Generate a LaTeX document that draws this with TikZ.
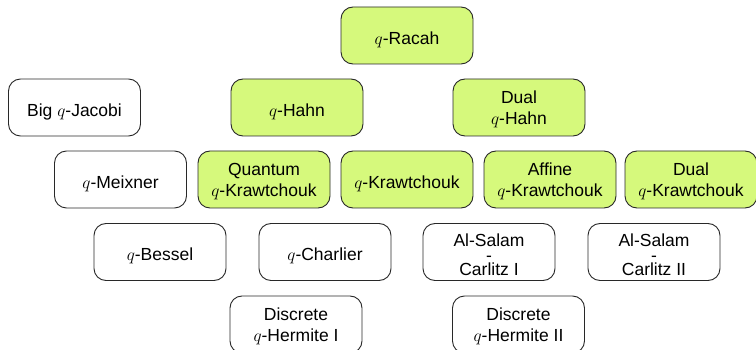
\documentclass[tikz,border=0pt]{standalone}
\usepackage{fontspec}
\setmainfont{Liberation Sans}
\definecolor{boxgreen}{RGB}{214,249,124}
\definecolor{boxline}{RGB}{40,40,40}
\begin{document}
\begin{tikzpicture}[x=1pt,y=-1pt,
  fam/.style={draw=boxline, line width=0.9pt, rounded corners=12pt,
    minimum width=132pt, minimum height=57pt, inner sep=0pt},
  hl/.style={fam, fill=boxgreen},
  plain/.style={fam, fill=white},
  txt/.style={inner sep=0pt, align=center, font=\fontsize{17.5}{21}\selectfont},
  tight/.style={txt, font=\fontsize{17.5}{14.5}\selectfont}]
\useasboundingbox (0,0) rectangle (756,350);
% boxes
\node[hl] (racah) at (407,35.5) {};
\node[plain] (bigjacobi) at (74.5,107.5) {};
\node[hl] (hahn) at (297,107.5) {};
\node[hl] (dualhahn) at (519,107.5) {};
\node[plain] (meixner) at (120.5,179.5) {};
\node[hl] (qkq) at (264,179.5) {};
\node[hl] (qk) at (407,179.5) {};
\node[hl] (aqk) at (550,179.5) {};
\node[hl] (dqk) at (691,179.5) {};
\node[plain] (bessel) at (160,252) {};
\node[plain] (charlier) at (325,252) {};
\node[plain] (asc1) at (489,252) {};
\node[plain] (asc2) at (654,252) {};
\node[plain] (dh1) at (296,324.5) {};
\node[plain] (dh2) at (518.5,324.5) {};
% texts
\node[txt] (racah-t) at ([yshift=-4pt]racah.center) {$q$-Racah};
\node[txt] (bigjacobi-t) at ([yshift=-4pt]bigjacobi.center) {Big $q$-Jacobi};
\node[txt] (hahn-t) at ([yshift=-4pt]hahn.center) {$q$-Hahn};
\node[txt] (dualhahn-t) at ([yshift=-1.8pt]dualhahn.center) {Dual\\$q$-Hahn};
\node[txt] (meixner-t) at ([yshift=-4pt]meixner.center) {$q$-Meixner};
\node[txt] (qkq-t) at ([yshift=-1.8pt]qkq.center) {Quantum\\$q$-Krawtchouk};
\node[txt] (qk-t) at ([yshift=-4pt]qk.center) {$q$-Krawtchouk};
\node[txt] (aqk-t) at ([yshift=-1.8pt]aqk.center) {Affine\\$q$-Krawtchouk};
\node[txt] (dqk-t) at ([yshift=-1.8pt]dqk.center) {Dual\\$q$-Krawtchouk};
\node[txt] (bessel-t) at ([yshift=-4pt]bessel.center) {$q$-Bessel};
\node[txt] (charlier-t) at ([yshift=-4pt]charlier.center) {$q$-Charlier};
\node[tight] (asc1-t) at ([yshift=-2.8pt]asc1.center) {Al-Salam\\-\\Carlitz I};
\node[tight] (asc2-t) at ([yshift=-2.8pt]asc2.center) {Al-Salam\\-\\Carlitz II};
\node[txt] (dh1-t) at ([yshift=-1.8pt]dh1.center) {Discrete\\$q$-Hermite I};
\node[txt] (dh2-t) at ([yshift=-1.8pt]dh2.center) {Discrete\\$q$-Hermite II};
\end{tikzpicture}
\end{document}
